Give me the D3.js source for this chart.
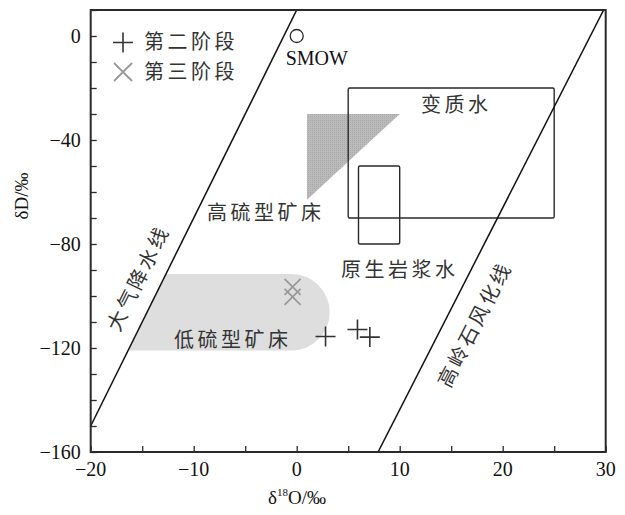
<!DOCTYPE html>
<html><head><meta charset="utf-8">
<script src="https://cdn.jsdelivr.net/npm/d3@7"></script>
<style>
body{margin:0;background:#fff;}
svg{display:block;}
</style></head>
<body>
<script>
// ---- data ----
const xDomain = [-20, 30];
const yDomain = [-160, 10];
const xTickLabels = [-20, -10, 0, 10, 20, 30];
const yTickLabels = [0, -40, -80, -120, -160];
const stage2 = [[2.8, -115.6], [5.9, -112.9], [7.1, -115.8]];
const stage3 = [[-0.4, -96.5], [-0.4, -100.3]];
const smow = [0, 0];
const meteoricLine = [[-20, -150], [0, 10]];            // δD = 8δ18O + 10
const kaoliniteLine = [[7.9, -160], [29.8, 10]];
const metamorphicBox = [[5, -20], [25, -70]];
const magmaticBox = [[6, -50], [10, -80]];
const highSulf = [[1, -30], [10, -30], [1, -63]];
const lowSulf = { top: -91.5, bottom: -121, right: 3.2 };
const legendLabels = ["第二阶段", "第三阶段"];
const regionLabels = [
  {t: "变质水", x: 15.5, y: -26.5},
  {t: "高硫型矿床", x: -3, y: -68},
  {t: "原生岩浆水", x: 10, y: -90},
  {t: "低硫型矿床", x: -6.2, y: -117},
];
const lineLabels = [
  {t: "大气降水线", line: meteoricLine, at: -97, off: 23},
  {t: "高岭石风化线", line: kaoliniteLine, at: -106, off: -28},
];

// ---- layout ----
const W = 625, H = 515;
const m = {l: 90.7, r: 625 - 605.7, t: 10, b: 515 - 452};
const svg = d3.select("body").append("svg").attr("width", W).attr("height", H);
const x = d3.scaleLinear().domain(xDomain).range([m.l, W - m.r]);
const y = d3.scaleLinear().domain(yDomain).range([H - m.b, m.t]);
const serif = "'Liberation Serif','Times New Roman',serif";
const cjk = "'Noto Sans CJK SC','Noto Sans CJK JP',sans-serif";
const ink = "#2a2a2a";

const clipId = "plotclip";
svg.append("clipPath").attr("id", clipId).append("rect")
  .attr("x", x(xDomain[0])).attr("y", y(yDomain[1]))
  .attr("width", x(xDomain[1]) - x(xDomain[0])).attr("height", y(yDomain[0]) - y(yDomain[1]));
const plot = svg.append("g").attr("clip-path", `url(#${clipId})`);

// x on a line for given δD
const xOn = (l, d) => l[0][0] + (d - l[0][1]) * (l[1][0] - l[0][0]) / (l[1][1] - l[0][1]);

// low sulfidation region (left edge follows meteoric line)
{
  const yT = y(lowSulf.top), yB = y(lowSulf.bottom);
  const r = (yB - yT) / 2;
  const xr = x(lowSulf.right) - r;
  const p = d3.path();
  p.moveTo(x(xOn(meteoricLine, lowSulf.top)), yT);
  p.lineTo(xr, yT);
  p.arc(xr, yT + r, r, -Math.PI / 2, Math.PI / 2);
  p.lineTo(x(xOn(meteoricLine, lowSulf.bottom)), yB);
  p.closePath();
  plot.append("path").attr("d", p.toString()).attr("fill", "#dedede");
}

// high sulfidation triangle
const defs = svg.append("defs");
const pat = defs.append("pattern").attr("id", "dots").attr("width", 2).attr("height", 2)
  .attr("patternUnits", "userSpaceOnUse");
pat.append("rect").attr("width", 2).attr("height", 2).attr("fill", "#bbbbbb");
pat.append("rect").attr("width", 1).attr("height", 1).attr("fill", "#a8a8a8");
plot.append("path")
  .attr("d", d3.line().x(d => x(d[0])).y(d => y(d[1]))(highSulf) + "Z")
  .attr("fill", "url(#dots)");

// boxes
[metamorphicBox, magmaticBox].forEach(b => {
  plot.append("rect")
    .attr("x", x(b[0][0])).attr("y", y(b[0][1]))
    .attr("width", x(b[1][0]) - x(b[0][0])).attr("height", y(b[1][1]) - y(b[0][1]))
    .attr("rx", 1.5)
    .attr("fill", "none").attr("stroke", ink).attr("stroke-width", 1.4);
});

// lines
[meteoricLine, kaoliniteLine].forEach(l => {
  plot.append("line")
    .attr("x1", x(l[0][0])).attr("y1", y(l[0][1]))
    .attr("x2", x(l[1][0])).attr("y2", y(l[1][1]))
    .attr("stroke", "#111").attr("stroke-width", 1.5);
});

// SMOW
svg.append("circle").attr("cx", x(smow[0])).attr("cy", y(smow[1])).attr("r", 6.5)
  .attr("fill", "none").attr("stroke", ink).attr("stroke-width", 1.3);
svg.append("text").attr("x", x(smow[0]) - 11).attr("y", y(smow[1]) + 29)
  .attr("font-family", serif).attr("font-size", 20).attr("fill", "#111").text("SMOW");

// markers
function plus(g, cx, cy, s, col, w) {
  g.append("path").attr("d", `M${cx - s},${cy}H${cx + s}M${cx},${cy - s}V${cy + s}`)
    .attr("stroke", col).attr("stroke-width", w).attr("fill", "none");
}
function cross(g, cx, cy, s, col, w) {
  g.append("path").attr("d", `M${cx - s},${cy - s}L${cx + s},${cy + s}M${cx - s},${cy + s}L${cx + s},${cy - s}`)
    .attr("stroke", col).attr("stroke-width", w).attr("fill", "none");
}
stage3.forEach(d => cross(svg, x(d[0]), y(d[1]), 8, "#999", 1.8));
stage2.forEach(d => plus(svg, x(d[0]), y(d[1]), 10, "#333", 1.6));

// legend
plus(svg, 123, 42.5, 10, "#333", 1.6);
cross(svg, 123, 72, 9, "#999", 1.8);
legendLabels.forEach((t, i) => {
  svg.append("text").attr("x", 144).attr("y", 42 + i * 29.5).attr("dy", "0.36em")
    .attr("font-family", cjk).attr("font-size", 20).attr("letter-spacing", 3.5)
    .attr("fill", "#333").text(t);
});

// region labels
regionLabels.forEach(d => {
  svg.append("text").attr("x", x(d.x)).attr("y", y(d.y)).attr("dy", "0.36em")
    .attr("text-anchor", "middle").attr("font-family", cjk).attr("font-size", 20)
    .attr("letter-spacing", 3.5).attr("fill", "#333").text(d.t);
});

// rotated line labels, offset perpendicular to their line
lineLabels.forEach(d => {
  const l = d.line;
  const dx = x(l[1][0]) - x(l[0][0]), dy = y(l[1][1]) - y(l[0][1]);
  const len = Math.hypot(dx, dy);
  const ux = dx / len, uy = dy / len;     // direction (up-right)
  const nx = uy, ny = -ux;                // normal pointing up-left
  const px = x(xOn(l, d.at)), py = y(d.at);
  const cx = px + nx * d.off, cy = py + ny * d.off;
  const ang = Math.atan2(dy, dx) * 180 / Math.PI;
  svg.append("text").attr("transform", `translate(${cx},${cy}) rotate(${ang})`)
    .attr("text-anchor", "middle").attr("dy", "0.36em")
    .attr("font-family", cjk).attr("font-size", 20).attr("letter-spacing", 3)
    .attr("fill", "#333").text(d.t);
});

// axes (inward ticks)
const xAxis = d3.axisBottom(x).tickValues(d3.range(-20, 31, 5)).tickSize(-6).tickFormat("");
const yAxis = d3.axisLeft(y).tickValues(d3.range(-160, 11, 10)).tickSize(-6).tickFormat("");
const gx = svg.append("g").attr("transform", `translate(0,${y(yDomain[0])})`).call(xAxis);
const gy = svg.append("g").attr("transform", `translate(${x(xDomain[0])},0)`).call(yAxis);
[gx, gy].forEach(g => {
  g.select(".domain").remove();
  g.selectAll("line").attr("stroke", ink).attr("stroke-width", 1.3);
});
// frame
svg.append("rect").attr("x", x(xDomain[0])).attr("y", y(yDomain[1]))
  .attr("width", x(xDomain[1]) - x(xDomain[0])).attr("height", y(yDomain[0]) - y(yDomain[1]))
  .attr("fill", "none").attr("stroke", ink).attr("stroke-width", 2);

const fmt = v => v < 0 ? "\u2212" + Math.abs(v) : String(v);
svg.append("g").selectAll("text").data(xTickLabels).join("text")
  .attr("x", d => x(d)).attr("y", y(yDomain[0]) + 24)
  .attr("text-anchor", "middle").attr("font-family", serif).attr("font-size", 20)
  .attr("fill", "#111").text(fmt);
svg.append("g").selectAll("text").data(yTickLabels).join("text")
  .attr("x", x(xDomain[0]) - 10).attr("y", d => y(d)).attr("dy", "0.35em")
  .attr("text-anchor", "end").attr("font-family", serif).attr("font-size", 20)
  .attr("fill", "#111").text(fmt);

// axis titles
const xt = svg.append("text").attr("x", 297).attr("y", 504).attr("text-anchor", "middle")
  .attr("font-family", serif).attr("font-size", 19).attr("fill", "#111");
xt.append("tspan").text("δ");
xt.append("tspan").attr("font-size", 11).attr("dy", -8).text("18");
xt.append("tspan").attr("dy", 8).text("O/‰");
svg.append("text").attr("transform", "translate(28,196) rotate(-90)").attr("text-anchor", "middle")
  .attr("font-family", serif).attr("font-size", 19).attr("fill", "#111").text("δD/‰");
</script>
</body></html>
